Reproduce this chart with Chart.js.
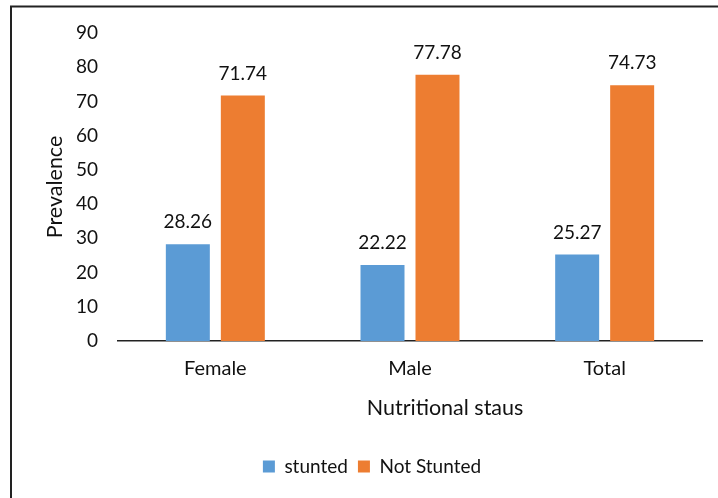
<!DOCTYPE html>
<html>
<head>
<meta charset="utf-8">
<script src="https://cdn.jsdelivr.net/npm/chart.js@4"></script>
<style>
  html, body { margin: 0; padding: 0; background: #fff; }
  #wrap { width: 718px; height: 498px; }
</style>
</head>
<body>
<div id="wrap"><canvas id="c" width="718" height="498"></canvas></div>
<script>
const categories = ['Female', 'Male', 'Total'];
const stunted = [28.26, 22.22, 25.27];
const notStunted = [71.74, 77.78, 74.73];
const seriesNames = ['stunted', 'Not Stunted'];
const yTicks = [0, 10, 20, 30, 40, 50, 60, 70, 80, 90];
const xTitle = 'Nutritional staus';
const yTitle = 'Prevalence';

const FONT = 'Lato, "Open Sans", sans-serif';
const TEXT = '#111';

// Frame around the whole figure
const framePlugin = {
  id: 'frame',
  afterDraw(chart) {
    const ctx = chart.ctx;
    ctx.save();
    ctx.strokeStyle = '#222';
    ctx.lineWidth = 2;
    ctx.strokeRect(11, 6.5, 740, 520);
    ctx.restore();
  }
};

// Value labels above each bar, and the category-axis title
const valueLabels = {
  id: 'valueLabels',
  afterDatasetsDraw(chart) {
    const ctx = chart.ctx;
    ctx.save();
    ctx.font = '19px ' + FONT;
    ctx.fillStyle = TEXT;
    ctx.textAlign = 'center';
    ctx.textBaseline = 'middle';
    chart.data.datasets.forEach((ds, i) => {
      chart.getDatasetMeta(i).data.forEach((bar, j) => {
        ctx.fillText(ds.data[j].toFixed(2), bar.x, bar.y - 22);
      });
    });
    const area = chart.chartArea;
    ctx.font = '21.5px ' + FONT;
    ctx.fillText(xTitle, area.left + (area.right - area.left) * 0.56, area.bottom + 67);
    ctx.restore();
  }
};

new Chart(document.getElementById('c'), {
  type: 'bar',
  data: {
    labels: categories,
    datasets: [
      { label: seriesNames[0], data: stunted, backgroundColor: '#5B9BD5' },
      { label: seriesNames[1], data: notStunted, backgroundColor: '#ED7D31' }
    ]
  },
  options: {
    responsive: false,
    animation: false,
    events: [],
    categoryPercentage: 0.565,
    barPercentage: 0.8,
    layout: { padding: { left: 42, right: 16, top: 33, bottom: 12 } },
    plugins: {
      tooltip: { enabled: false },
      legend: {
        position: 'bottom',
        labels: {
          color: TEXT,
          font: { family: FONT, size: 19 },
          boxWidth: 12, boxHeight: 12,
          padding: 10
        }
      }
    },
    scales: {
      x: {
        grid: { display: false, drawTicks: false },
        border: { color: '#222', width: 1.5 },
        ticks: { color: TEXT, font: { family: FONT, size: 20 }, padding: 16 },
        afterFit(scale) { scale.height = 106; }
      },
      y: {
        min: 0, max: 90,
        grid: { display: false, drawTicks: false },
        border: { display: false },
        afterBuildTicks(scale) { scale.ticks = yTicks.map(v => ({ value: v })); },
        ticks: { color: TEXT, font: { family: FONT, size: 19 }, padding: 20 },
        title: {
          display: true, text: yTitle, color: TEXT,
          font: { family: FONT, size: 21.5 }, padding: { top: 0, bottom: 0 }
        },
        afterFit(scale) { scale.width = 76; }
      }
    }
  },
  plugins: [framePlugin, valueLabels]
});
</script>
</body>
</html>
